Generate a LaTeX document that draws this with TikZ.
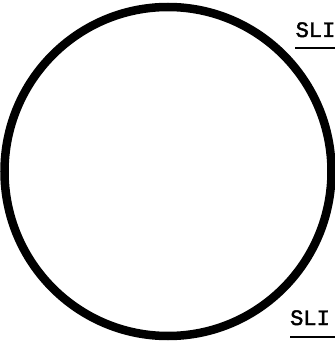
\documentclass[tikz,border=0pt]{standalone}
\usepackage{fontspec}
\newfontfamily\tw[FakeBold=2]{Liberation Mono}
\begin{document}
\begin{tikzpicture}[x=1pt,y=1pt,
  lbl/.style={anchor=base west,inner sep=0pt,font=\tw\fontsize{22}{22}\selectfont},
  uline/.style={line width=2pt}]
\useasboundingbox (0,0) rectangle (335,341);
\clip (0,0) rectangle (335,341);
\draw[line width=8.5pt] (168,169.5) ellipse [x radius=163.5, y radius=164.5];
\node[lbl] (t1) at (295.5,304) {SLI};
\node[lbl] (t2) at (290,16) {SLI};
\draw[uline] (295,293) -- (340,293);
\draw[uline] (290,4) -- (340,4);
\end{tikzpicture}
\end{document}
